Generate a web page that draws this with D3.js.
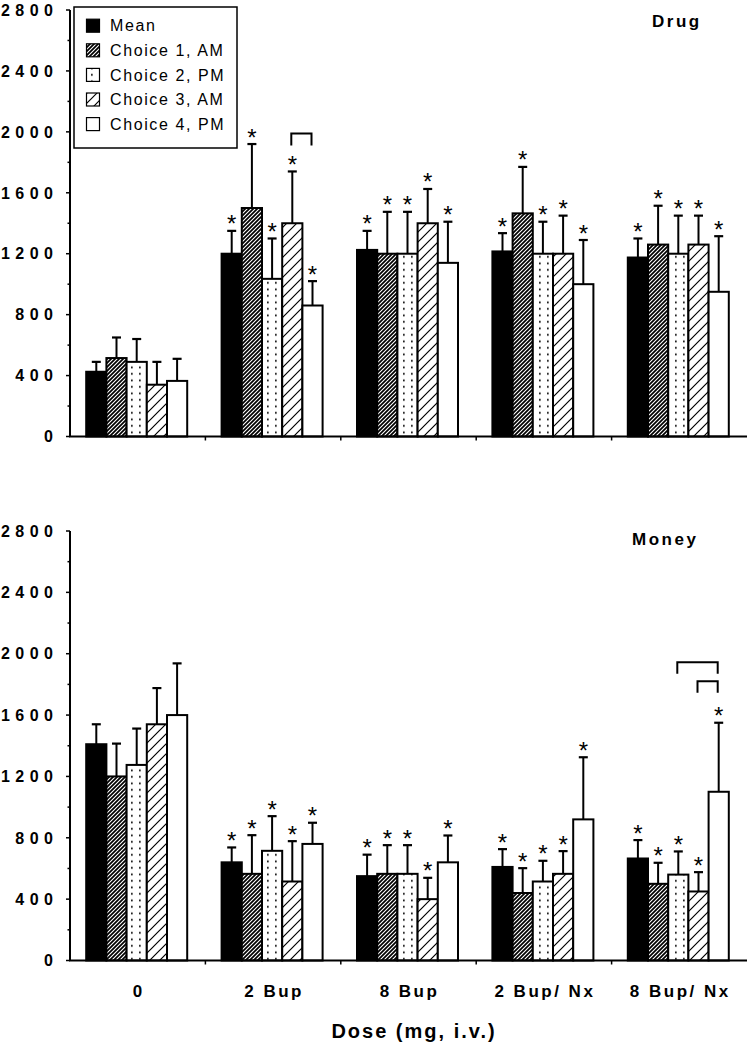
<!DOCTYPE html>
<html>
<head>
<meta charset="utf-8">
<script src="https://cdn.jsdelivr.net/npm/d3@7"></script>
<style>
  html, body { margin: 0; padding: 0; background: #fff; }
  svg { display: block; }
  text { font-family: Arial, "Liberation Sans", sans-serif; fill: #000; }
</style>
</head>
<body>
<svg id="chart" width="750" height="1050"></svg>
<script>
// ---------------- DATA ----------------
const categories = ["0", "2 Bup", "8 Bup", "2 Bup/ Nx", "8 Bup/ Nx"];
const seriesNames = ["Mean", "Choice 1, AM", "Choice 2, PM", "Choice 3, AM", "Choice 4, PM"];
const yTicks = [0, 400, 800, 1200, 1600, 2000, 2400, 2800];

// Drug panel: bar values (per series, across categories)
const drugMean = [425, 1200, 1225, 1215, 1175];
const drugC1   = [515, 1500, 1200, 1465, 1260];
const drugC2   = [490, 1035, 1200, 1200, 1200];
const drugC3   = [340, 1400, 1400, 1200, 1260];
const drugC4   = [365,  860, 1140, 1000,  950];
// Drug panel: top of error bars
const drugMeanErr = [490, 1350, 1350, 1335, 1300];
const drugC1Err   = [650, 1920, 1475, 1770, 1515];
const drugC2Err   = [640, 1300, 1475, 1410, 1450];
const drugC3Err   = [490, 1740, 1625, 1450, 1450];
const drugC4Err   = [510, 1020, 1410, 1290, 1315];

// Money panel
const moneyMean = [1410, 640, 550, 610, 665];
const moneyC1   = [1200, 565, 565, 440, 500];
const moneyC2   = [1275, 715, 565, 515, 560];
const moneyC3   = [1540, 515, 400, 565, 450];
const moneyC4   = [1600, 760, 640, 920, 1100];
const moneyMeanErr = [1540, 737, 690, 726, 785];
const moneyC1Err   = [1414, 817, 752, 602, 637];
const moneyC2Err   = [1512, 941, 752, 650, 711];
const moneyC3Err   = [1776, 778, 539, 713, 576];
const moneyC4Err   = [1937, 898, 815, 1325, 1550];

// Significance asterisks: categories (index) whose all bars are marked
const drugStarCats  = [1, 2, 3, 4];
const moneyStarCats = [1, 2, 3, 4];
// Brackets: [category, fromSeries, toSeries, topValue, legValue]
const drugBrackets  = [[1, 3, 4, 1990, 1910]];
const moneyBrackets = [[4, 2, 4, 1945, 1870], [4, 3, 4, 1820, 1745]];

// ---------------- CHART ----------------
const svg = d3.select("#chart");
const defs = svg.append("defs");

// patterns
const pDark = defs.append("pattern").attr("id", "hatchDark")
  .attr("patternUnits", "userSpaceOnUse").attr("width", 4).attr("height", 4);
pDark.append("rect").attr("width", 4).attr("height", 4).attr("fill", "#000");
pDark.append("path").attr("d", "M-1,1 l2,-2 M0,4 l4,-4 M3,5 l2,-2")
  .attr("stroke", "#fff").attr("stroke-width", 1.1);

const pDots = defs.append("pattern").attr("id", "dots")
  .attr("patternUnits", "userSpaceOnUse").attr("width", 8).attr("height", 6.5);
pDots.append("rect").attr("width", 8).attr("height", 6.5).attr("fill", "#fff");
pDots.append("rect").attr("x", 3).attr("y", 2.5).attr("width", 1.7).attr("height", 1.7).attr("fill", "#000");

const pLight = defs.append("pattern").attr("id", "hatchLight")
  .attr("patternUnits", "userSpaceOnUse").attr("width", 10).attr("height", 10);
pLight.append("rect").attr("width", 10).attr("height", 10).attr("fill", "#fff");
pLight.append("path").attr("d", "M-1,1 l2,-2 M0,10 l10,-10 M9,11 l2,-2")
  .attr("stroke", "#000").attr("stroke-width", 1.2);

const fills = ["#000", "url(#hatchDark)", "url(#dots)", "url(#hatchLight)", "#fff"];

const x = d3.scaleBand().domain(categories).range([70, 747]).padding(0);
const sub = d3.scaleBand().domain(d3.range(5)).range([0, 101]).padding(0);
const groupOffset = (x.bandwidth() - 101) / 2 - 1;
const barX = (ci, si) => x(categories[ci]) + groupOffset + sub(si);
const barCX = (ci, si) => barX(ci, si) + sub.bandwidth() / 2;

function drawPanel(cfg) {
  const y = d3.scaleLinear().domain([0, 2800]).range(cfg.range);
  const g = svg.append("g");

  // bars
  cfg.values.forEach((vals, si) => {
    g.selectAll(null).data(vals).enter().append("rect")
      .attr("x", (d, ci) => barX(ci, si))
      .attr("y", d => y(d))
      .attr("width", sub.bandwidth())
      .attr("height", d => y(0) - y(d))
      .attr("fill", fills[si])
      .attr("stroke", "#000").attr("stroke-width", 2);
  });

  // error bars
  cfg.errs.forEach((errs, si) => {
    errs.forEach((e, ci) => {
      const cx = barCX(ci, si);
      g.append("line").attr("x1", cx).attr("x2", cx)
        .attr("y1", y(cfg.values[si][ci])).attr("y2", y(e))
        .attr("stroke", "#000").attr("stroke-width", 2);
      g.append("line").attr("x1", cx - 4.5).attr("x2", cx + 4.5)
        .attr("y1", y(e)).attr("y2", y(e))
        .attr("stroke", "#000").attr("stroke-width", 2.2);
    });
  });

  // asterisks
  cfg.starCats.forEach(ci => {
    cfg.errs.forEach((errs, si) => {
      g.append("text").attr("x", barCX(ci, si)).attr("y", y(errs[ci]) + 1.5)
        .attr("text-anchor", "middle").attr("font-size", 24).text("*");
    });
  });

  // brackets
  cfg.brackets.forEach(([ci, s1, s2, top, leg]) => {
    const x1 = barCX(ci, s1) - 1, x2 = barCX(ci, s2) - 1;
    g.append("path")
      .attr("d", `M${x1},${y(leg)} V${y(top)} H${x2} V${y(leg)}`)
      .attr("fill", "none").attr("stroke", "#000").attr("stroke-width", 2);
  });

  // y axis
  const minor = d3.range(0, 2801, 200).filter(v => v % 400 !== 0);
  g.append("line").attr("x1", 70).attr("x2", 70).attr("y1", y(0)).attr("y2", y(2800))
    .attr("stroke", "#000").attr("stroke-width", 2);
  yTicks.forEach(v => {
    g.append("line").attr("x1", 66).attr("x2", 70).attr("y1", y(v)).attr("y2", y(v))
      .attr("stroke", "#000").attr("stroke-width", 1.5);
    g.append("text").attr("x", 58.5).attr("y", y(v)).attr("dy", "0.36em")
      .attr("text-anchor", "end").attr("font-size", 16).attr("font-weight", "bold")
      .attr("letter-spacing", "5.5px").text(v);
  });
  minor.forEach(v => {
    g.append("line").attr("x1", 67.5).attr("x2", 70).attr("y1", y(v)).attr("y2", y(v))
      .attr("stroke", "#000").attr("stroke-width", 1.5);
  });

  // x axis
  g.append("line").attr("x1", 69).attr("x2", 747).attr("y1", y(0)).attr("y2", y(0))
    .attr("stroke", "#000").attr("stroke-width", 2);
  categories.slice(1).forEach(c => {
    g.append("line").attr("x1", x(c)).attr("x2", x(c)).attr("y1", y(0)).attr("y2", y(0) + 4)
      .attr("stroke", "#000").attr("stroke-width", 1.5);
  });

  // title
  g.append("text").attr("x", cfg.titleX).attr("y", cfg.titleY)
    .attr("font-size", 17).attr("font-weight", "bold").attr("letter-spacing", "2.5px")
    .text(cfg.title);
  return y;
}

drawPanel({
  range: [436.5, 10],
  values: [drugMean, drugC1, drugC2, drugC3, drugC4],
  errs: [drugMeanErr, drugC1Err, drugC2Err, drugC3Err, drugC4Err],
  starCats: drugStarCats, brackets: drugBrackets,
  title: "Drug", titleX: 652, titleY: 27
});
drawPanel({
  range: [960.5, 531],
  values: [moneyMean, moneyC1, moneyC2, moneyC3, moneyC4],
  errs: [moneyMeanErr, moneyC1Err, moneyC2Err, moneyC3Err, moneyC4Err],
  starCats: moneyStarCats, brackets: moneyBrackets,
  title: "Money", titleX: 632, titleY: 545
});

// category labels
svg.selectAll(null).data(categories).enter().append("text")
  .attr("x", c => x(c) + x.bandwidth() / 2 + 1)
  .attr("y", 997)
  .attr("text-anchor", "middle").attr("font-size", 17).attr("font-weight", "bold")
  .attr("letter-spacing", "2.5px").text(c => c);

svg.append("text").attr("x", 414).attr("y", 1038)
  .attr("text-anchor", "middle").attr("font-size", 20).attr("font-weight", "bold")
  .attr("letter-spacing", "2px").text("Dose (mg, i.v.)");

// legend
const lg = svg.append("g");
lg.append("rect").attr("x", 74).attr("y", 7).attr("width", 163).attr("height", 141)
  .attr("fill", "#fff").attr("stroke", "#000").attr("stroke-width", 1.5);
seriesNames.forEach((s, i) => {
  const cy = 25.7 + 24.6 * i;
  lg.append("rect").attr("x", 86.5).attr("y", cy - 6.5).attr("width", 13).attr("height", 13)
    .attr("fill", fills[i]).attr("stroke", "#000").attr("stroke-width", 1.2);
  lg.append("text").attr("x", 110).attr("y", cy).attr("dy", "0.36em")
    .attr("font-size", 16).attr("letter-spacing", "1.6px").text(s);
});
</script>
</body>
</html>
